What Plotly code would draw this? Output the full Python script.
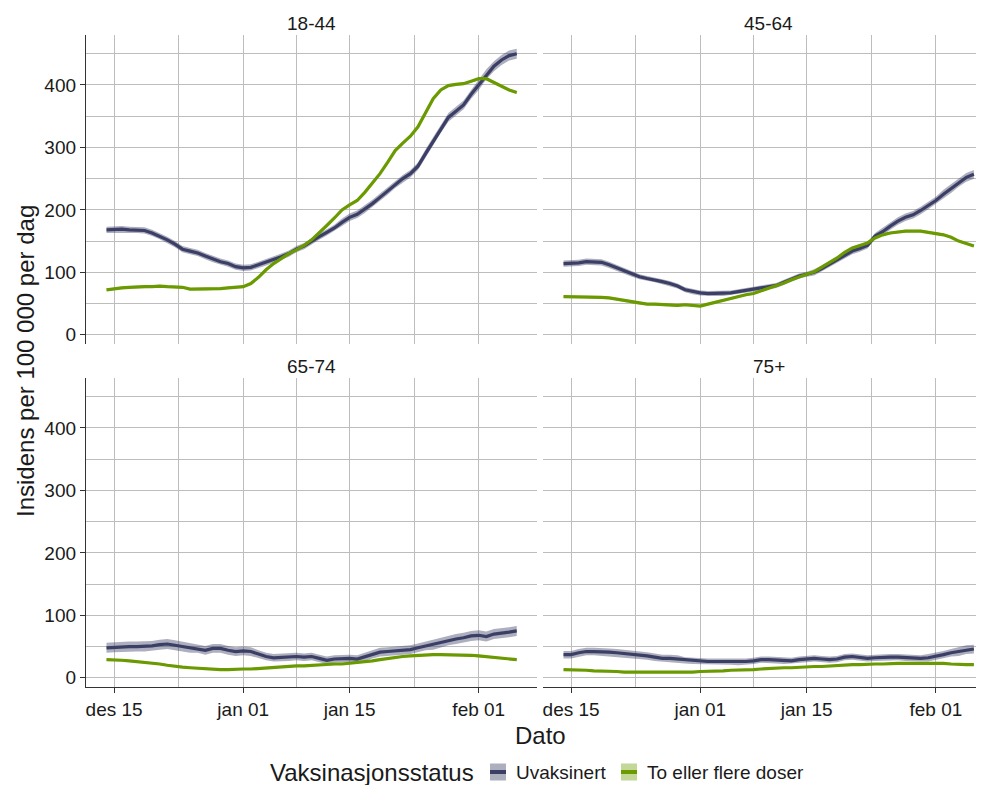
import pandas as pd
import plotly.graph_objects as go
from plotly.subplots import make_subplots

# daily 7-day incidence per 100 000, 14 Dec 2021 - 6 Feb 2022
dates = pd.date_range("2021-12-14", "2022-02-06", freq="D")

age_groups = ["18-44", "45-64", "65-74", "75+"]
status_labels = ["Uvaksinert", "To eller flere doser"]

date_ticks = ["2021-12-15", "2022-01-01", "2022-01-15", "2022-02-01"]
date_tick_labels = ["des 15", "jan 01", "jan 15", "feb 01"]
date_minor = ["2021-12-23 12:00", "2022-01-08", "2022-01-23 12:00"]
y_ticks = [0, 100, 200, 300, 400]
y_minor = [50, 150, 250, 350, 450]

# 18-44
uvaks_18_44 = [168, 169, 169, 168, 168, 167, 163, 158, 152, 145,
               137, 134, 131, 126, 121, 117, 114, 109, 107, 108,
               112, 116, 120, 125, 130, 137, 142, 150, 157, 164,
               171, 180, 188, 193, 201, 210, 220, 230, 241, 250,
               258, 270, 290, 310, 330, 348, 358, 368, 385, 400,
               417, 430, 440, 447, 450]
uvaks_18_44_ci = [5, 5, 5, 5, 5, 5, 5, 5, 5, 5,
                  5, 5, 5, 5, 5, 5, 5, 5, 5, 5,
                  5, 5, 5, 5, 5, 5, 5, 5, 5, 5,
                  5, 6, 6, 6, 6, 6, 6, 6, 6, 6,
                  6, 6, 7, 7, 7, 7, 7, 7, 7, 8,
                  8, 8, 8, 8, 8]
doser_18_44 = [72, 74, 75, 76, 77, 77, 77, 78, 77, 77,
               76, 73, 73, 73, 74, 74, 75, 76, 77, 82,
               92, 104, 114, 122, 130, 136, 143, 152, 163, 175,
               187, 200, 208, 215, 228, 243, 258, 276, 295, 307,
               318, 333, 356, 378, 392, 399, 401, 402, 406, 410,
               410, 404, 398, 392, 388]
doser_18_44_ci = [2, 2, 2, 2, 2, 2, 2, 2, 2, 2,
                  2, 2, 2, 2, 2, 2, 2, 2, 2, 2,
                  2, 2, 2, 2, 2, 2, 2, 2, 2, 2,
                  2, 2, 2, 2, 2, 2, 2, 2, 2, 2,
                  2, 2, 2, 2, 2, 2, 2, 2, 2, 2,
                  2, 2, 2, 2, 2]

# 45-64
uvaks_45_64 = [114, 114, 115, 117, 117, 116, 112, 107, 103, 98,
               93, 90, 88, 85, 82, 78, 72, 69, 67, 66,
               66, 66, 67, 69, 71, 73, 75, 77, 79, 84,
               89, 94, 97, 100, 106, 113, 120, 127, 134, 138,
               143, 158, 165, 174, 182, 188, 192, 199, 207, 215,
               225, 234, 244, 252, 257]
uvaks_45_64_ci = [5, 5, 5, 5, 5, 5, 5, 5, 5, 5,
                  4, 4, 4, 4, 4, 4, 4, 4, 4, 4,
                  4, 4, 4, 4, 4, 4, 4, 4, 4, 4,
                  4, 4, 4, 5, 5, 5, 5, 5, 5, 5,
                  5, 5, 6, 6, 6, 6, 6, 6, 6, 6,
                  7, 7, 7, 7, 7]
doser_45_64 = [61, 61, 61, 61, 60, 60, 59, 57, 55, 52,
               50, 49, 49, 48, 47, 47, 48, 47, 46, 49,
               52, 55, 58, 62, 64, 66, 70, 74, 79, 83,
               88, 93, 97, 101, 108, 115, 123, 132, 139, 143,
               147, 155, 160, 163, 165, 166, 166, 166, 164, 162,
               160, 156, 150, 146, 142]
doser_45_64_ci = [2, 2, 2, 2, 2, 2, 2, 2, 2, 2,
                  2, 2, 2, 2, 2, 2, 2, 2, 2, 2,
                  2, 2, 2, 2, 2, 2, 2, 2, 2, 2,
                  2, 2, 2, 2, 2, 2, 2, 2, 2, 2,
                  2, 2, 2, 2, 2, 2, 2, 2, 2, 2,
                  2, 2, 2, 2, 2]

# 65-74
uvaks_65_74 = [48, 49, 49, 50, 50, 50, 51, 53, 54, 52,
               50, 48, 47, 44, 47, 47, 44, 42, 43, 42,
               38, 34, 32, 33, 33, 34, 33, 34, 31, 28,
               30, 31, 31, 30, 34, 38, 41, 42, 43, 44,
               45, 48, 51, 53, 57, 60, 62, 64, 67, 68,
               66, 70, 71, 73, 75]
uvaks_65_74_ci = [8, 8, 8, 8, 8, 8, 8, 8, 8, 8,
                  8, 8, 7, 7, 7, 7, 7, 7, 7, 7,
                  6, 6, 6, 6, 6, 6, 6, 6, 6, 6,
                  6, 6, 6, 6, 6, 7, 7, 7, 7, 7,
                  7, 7, 7, 8, 8, 8, 8, 8, 8, 8,
                  8, 8, 8, 8, 8]
doser_65_74 = [29, 29, 28, 27, 26, 25, 24, 22, 20, 18,
               17, 16, 15, 15, 14, 13, 13, 14, 14, 14,
               15, 16, 17, 17, 18, 19, 19, 20, 21, 21,
               22, 22, 23, 24, 26, 27, 29, 31, 33, 34,
               35, 36, 37, 37, 37, 37, 37, 36, 36, 35,
               34, 33, 31, 30, 29]
doser_65_74_ci = [1.5, 1.5, 1.5, 1.5, 1.5, 1.5, 1.5, 1.5, 1.5, 1.5,
                  1.5, 1.5, 1.5, 1.5, 1.5, 1.5, 1.5, 1.5, 1.5, 1.5,
                  1.5, 1.5, 1.5, 1.5, 1.5, 1.5, 1.5, 1.5, 1.5, 1.5,
                  1.5, 1.5, 1.5, 1.5, 1.5, 1.5, 1.5, 1.5, 1.5, 1.5,
                  1.5, 1.5, 1.5, 1.5, 1.5, 1.5, 1.5, 1.5, 1.5, 1.5,
                  1.5, 1.5, 1.5, 1.5, 1.5]

# 75+
uvaks_75 = [37, 37, 40, 42, 42, 42, 41, 40, 39, 38,
            36, 35, 33, 31, 31, 30, 28, 27, 26, 26,
            26, 26, 26, 25, 26, 27, 29, 29, 28, 27,
            27, 29, 30, 31, 30, 29, 30, 33, 34, 32,
            31, 32, 33, 33, 33, 32, 31, 31, 32, 34,
            37, 40, 42, 45, 46]
uvaks_75_ci = [6, 6, 6, 6, 6, 6, 6, 6, 6, 6,
               6, 6, 6, 6, 6, 6, 5, 5, 5, 5,
               5, 5, 5, 5, 5, 5, 5, 5, 5, 5,
               5, 5, 5, 5, 5, 5, 5, 5, 5, 5,
               5, 5, 5, 5, 5, 5, 5, 5, 6, 6,
               6, 6, 7, 7, 7]
doser_75 = [13, 13, 12, 12, 11, 11, 10, 10, 9, 9,
            8, 8, 8, 8, 8, 8, 9, 9, 10, 10,
            11, 11, 12, 12, 13, 13, 14, 15, 15, 16,
            16, 17, 17, 18, 18, 19, 19, 20, 21, 21,
            22, 22, 22, 23, 23, 23, 23, 23, 24, 24,
            23, 22, 21, 21, 21]
doser_75_ci = [1, 1, 1, 1, 1, 1, 1, 1, 1, 1,
               1, 1, 1, 1, 1, 1, 1, 1, 1, 1,
               1, 1, 1, 1, 1, 1, 1, 1, 1, 1,
               1, 1, 1, 1, 1, 1, 1, 1, 1, 1,
               1, 1, 1, 1, 1, 1, 1, 1, 1, 1,
               1, 1, 1, 1, 1]

NAVY = "#3b3e65"
NAVY_FILL = "rgba(59,62,101,0.42)"
GREEN = "#6a9a00"
GREEN_FILL = "rgba(106,154,0,0.4)"
GRID = "#bdbdbd"
AXIS = "#333333"
TEXT = "#1a1a1a"
FONT = "Liberation Sans, Arial, sans-serif"

# the page body has an 8px margin, so the figure canvas starts at (8, 8)
OFF = 8
W, H = 984 - OFF, 785 - OFF
# plot area in window pixels
AREA_L, AREA_R, AREA_T, AREA_B = 86, 984, 35, 687


# window pixel position -> paper coordinates
def px(x):
    return (x - AREA_L) / (AREA_R - AREA_L)


def py(y):
    return (AREA_B - y) / (AREA_B - AREA_T)


fig = make_subplots(rows=2, cols=2)

panels = [
    (1, 1, uvaks_18_44, uvaks_18_44_ci, doser_18_44, doser_18_44_ci),
    (1, 2, uvaks_45_64, uvaks_45_64_ci, doser_45_64, doser_45_64_ci),
    (2, 1, uvaks_65_74, uvaks_65_74_ci, doser_65_74, doser_65_74_ci),
    (2, 2, uvaks_75, uvaks_75_ci, doser_75, doser_75_ci),
]

x_band = list(dates) + list(dates[::-1])
for row, col, uv, uv_ci, ds, ds_ci in panels:
    # ribbons first, then lines on top
    for vals, ci, fill in [(uv, uv_ci, NAVY_FILL), (ds, ds_ci, GREEN_FILL)]:
        upper = [v + c for v, c in zip(vals, ci)]
        lower = [v - c for v, c in zip(vals, ci)]
        fig.add_trace(go.Scatter(
            x=x_band, y=upper + lower[::-1],
            fill="toself", fillcolor=fill, mode="lines",
            line=dict(width=0), hoverinfo="skip", showlegend=False,
        ), row=row, col=col)
    for vals, color, name in [(uv, NAVY, status_labels[0]), (ds, GREEN, status_labels[1])]:
        fig.add_trace(go.Scatter(
            x=dates, y=vals, mode="lines", name=name,
            line=dict(color=color, width=3.2), showlegend=False,
        ), row=row, col=col)

left_dom = [px(86), px(537)]
right_dom = [px(543), 1]
top_dom = [py(344), py(35)]
bot_dom = [py(687), py(378)]

# right column is cut by the window edge, as in the source image
x_left_range = ["2021-12-11 07:12", "2022-02-08 16:00"]
x_right_range = ["2021-12-11 07:12", "2022-02-07 08:00"]
y_range = [-14.8, 480]

tickfont = dict(family=FONT, size=19, color=TEXT)

fig.update_xaxes(
    type="date", tickmode="array", tickvals=date_ticks, ticktext=date_tick_labels,
    showgrid=True, gridcolor=GRID, gridwidth=1, zeroline=False,
    minor=dict(tickmode="array", tickvals=date_minor, showgrid=True, gridcolor=GRID, gridwidth=1),
    tickfont=tickfont,
)
fig.update_yaxes(
    tickmode="array", tickvals=y_ticks, range=y_range,
    showgrid=True, gridcolor=GRID, gridwidth=1, zeroline=False,
    minor=dict(tickmode="array", tickvals=y_minor, showgrid=True, gridcolor=GRID, gridwidth=1),
    tickfont=tickfont,
)

fig.update_layout(
    xaxis=dict(domain=left_dom, range=x_left_range, showticklabels=False, ticks=""),
    xaxis2=dict(domain=right_dom, range=x_right_range, showticklabels=False, ticks=""),
    xaxis3=dict(domain=left_dom, range=x_left_range, ticks="outside", ticklen=5,
                tickcolor=AXIS, showline=True, linecolor=AXIS, linewidth=1.3),
    xaxis4=dict(domain=right_dom, range=x_right_range, ticks="outside", ticklen=5,
                tickcolor=AXIS, showline=True, linecolor=AXIS, linewidth=1.3),
    yaxis=dict(domain=top_dom, ticks="outside", ticklen=5, tickcolor=AXIS,
               showline=True, linecolor=AXIS, linewidth=1.3),
    yaxis2=dict(domain=top_dom, showticklabels=False, ticks=""),
    yaxis3=dict(domain=bot_dom, ticks="outside", ticklen=5, tickcolor=AXIS,
                showline=True, linecolor=AXIS, linewidth=1.3),
    yaxis4=dict(domain=bot_dom, showticklabels=False, ticks=""),
)

annotations = []
# facet strips
strip_pos = [((86 + 537) / 2, 23), ((543 + 994) / 2, 23), ((86 + 537) / 2, 366), ((543 + 994) / 2, 366)]
for label, (sx, sy) in zip(age_groups, strip_pos):
    annotations.append(dict(text=label, x=px(sx), y=py(sy), xref="paper", yref="paper",
                            xanchor="center", yanchor="middle", showarrow=False,
                            font=dict(family=FONT, size=19, color=TEXT)))
# axis titles
annotations.append(dict(text="Dato", x=px(540), y=py(735), xref="paper", yref="paper",
                        xanchor="center", yanchor="middle", showarrow=False,
                        font=dict(family=FONT, size=24, color=TEXT)))
annotations.append(dict(text="Insidens per 100 000 per dag", x=px(25), y=py(361),
                        xref="paper", yref="paper", xanchor="center", yanchor="middle",
                        textangle=-90, showarrow=False,
                        font=dict(family=FONT, size=24, color=TEXT)))

# legend, drawn as in ggplot: title, then filled key with a line through it
leg_y = 772
annotations.append(dict(text="Vaksinasjonsstatus", x=px(268), y=py(leg_y), xref="paper", yref="paper",
                        xanchor="left", yanchor="middle", showarrow=False,
                        font=dict(family=FONT, size=24, color=TEXT)))
shapes = []
legend_items = [(490, 514, NAVY, NAVY_FILL, status_labels[0]),
                (621, 645, GREEN, GREEN_FILL, status_labels[1])]
for kx, tx, lc, fc, label in legend_items:
    shapes.append(dict(type="rect", xref="paper", yref="paper",
                       x0=px(kx), x1=px(kx + 16), y0=py(leg_y + 8.5), y1=py(leg_y - 8.5),
                       fillcolor=fc, line=dict(width=0)))
    shapes.append(dict(type="rect", xref="paper", yref="paper",
                       x0=px(kx), x1=px(kx + 16), y0=py(leg_y + 2), y1=py(leg_y - 2),
                       fillcolor=lc, line=dict(width=0)))
    annotations.append(dict(text=label, x=px(tx), y=py(leg_y), xref="paper", yref="paper",
                            xanchor="left", yanchor="middle", showarrow=False,
                            font=dict(family=FONT, size=19, color=TEXT)))

fig.update_layout(
    width=W, height=H,
    margin=dict(l=AREA_L - OFF, r=0, t=AREA_T - OFF, b=H - (AREA_B - OFF)),
    plot_bgcolor="white", paper_bgcolor="white",
    showlegend=False,
    font=dict(family=FONT, color=TEXT),
    annotations=annotations,
    shapes=shapes,
)

fig.write_html("out.html")
